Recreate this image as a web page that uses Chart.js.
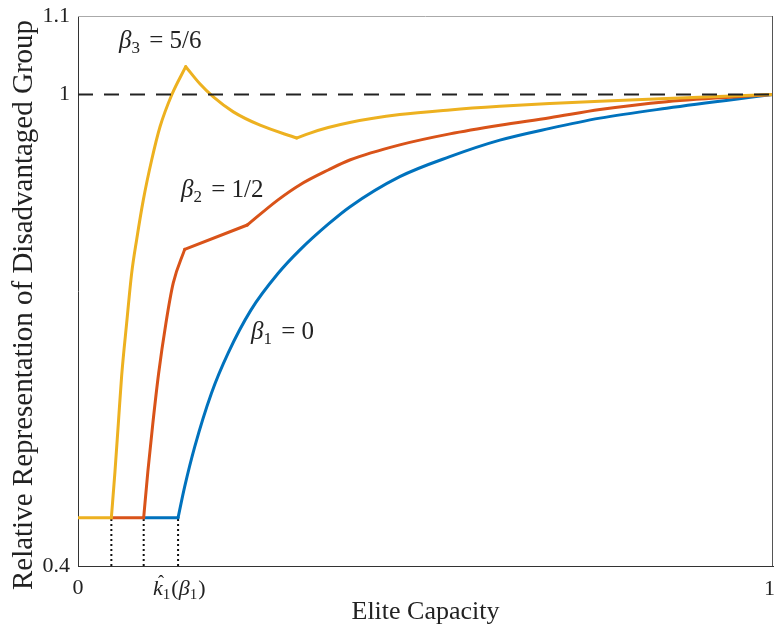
<!DOCTYPE html>
<html>
<head>
<meta charset="utf-8">
<script src="https://cdn.jsdelivr.net/npm/chart.js@4/dist/chart.umd.min.js"></script>
<style>
  body { margin: 0; background: #fff; }
  #wrap { width: 775px; height: 628px; }
</style>
</head>
<body>
<div id="wrap"><canvas id="c"></canvas></div>
<script>
// axis ticks
const xTicks = [0, 0.144, 1];
const xTickLabels = ['0', '', '1'];
const yTicks = [0.4, 1, 1.1];

// thresholds k_hat for each beta, and the floor value
const kHat = [0.048, 0.0945, 0.144];
const floorY = 0.4615;

// beta3 = 5/6  (kinks: end of floor, peak, minimum)
const yellowX = [0, 0.048, 0.0532, 0.058, 0.0628, 0.070, 0.0772, 0.0845, 0.094, 0.106, 0.118, 0.1348, 0.155, 0.175, 0.1947, 0.2235, 0.262, 0.3146, 0.334, 0.36, 0.391, 0.463, 0.535, 0.607, 0.679, 0.751, 0.847, 1];
const yellowY = [0.4615, 0.4615, 0.52, 0.581, 0.642, 0.709, 0.7725, 0.816, 0.866, 0.9167, 0.959, 0.9995, 1.0355, 1.014, 0.997, 0.978, 0.961, 0.9447, 0.951, 0.958, 0.9645, 0.9745, 0.9805, 0.985, 0.9885, 0.9915, 0.995, 1];
const yellowKinks = [1, 12, 17];

// beta2 = 1/2
const redX = [0.048, 0.0945, 0.1005, 0.1075, 0.116, 0.1265, 0.137, 0.1535, 0.2436, 0.2878, 0.319, 0.36, 0.391, 0.463, 0.535, 0.607, 0.679, 0.751, 0.847, 1];
const redY = [0.4615, 0.4615, 0.52, 0.58, 0.645, 0.709, 0.76, 0.803, 0.834, 0.866, 0.885, 0.904, 0.9167, 0.936, 0.950, 0.961, 0.9705, 0.981, 0.991, 1];
const redKinks = [1, 7, 8];

// beta1 = 0
const blueX = [0.0945, 0.144, 0.1535, 0.168, 0.192, 0.216, 0.249, 0.288, 0.319, 0.36, 0.391, 0.463, 0.535, 0.607, 0.679, 0.751, 0.847, 1];
const blueY = [0.4615, 0.4615, 0.501, 0.552, 0.620, 0.671, 0.726, 0.7725, 0.802, 0.835, 0.857, 0.8955, 0.921, 0.942, 0.957, 0.970, 0.9826, 1];
const blueKinks = [1];

const serif = '"Liberation Serif", "DejaVu Serif", serif';
const ink = '#222';

// one dataset per smooth piece, so corners stay sharp
function pieces(xs, ys, kinks, color) {
  const cuts = [0, ...kinks, xs.length - 1];
  const out = [];
  for (let j = 0; j < cuts.length - 1; j++) {
    const d = [];
    for (let i = cuts[j]; i <= cuts[j + 1]; i++) d.push({ x: xs[i], y: ys[i] });
    out.push({
      data: d,
      borderColor: color,
      borderWidth: 3,
      pointRadius: 0,
      cubicInterpolationMode: 'monotone',
      borderCapStyle: 'round'
    });
  }
  return out;
}

function betaLabel(ctx, x, y, sub, rest) {
  ctx.font = 'italic 25px ' + serif;
  ctx.fillText('β', x, y);
  let w = ctx.measureText('β').width;
  ctx.font = '17px ' + serif;
  ctx.fillText(sub, x + w, y + 5);
  w += ctx.measureText(sub).width;
  ctx.font = '25px ' + serif;
  ctx.fillText(rest, x + w + 3, y);
}

const extras = {
  id: 'extras',
  afterDraw(chart) {
    const ctx = chart.ctx;
    const a = chart.chartArea;
    const sx = chart.scales.x;
    ctx.save();
    // box top and right
    ctx.lineWidth = 1;
    ctx.strokeStyle = '#aaa';
    ctx.beginPath();
    ctx.moveTo(a.left, a.top + 0.5);
    ctx.lineTo(a.right, a.top + 0.5);
    ctx.stroke();
    ctx.strokeStyle = '#555';
    ctx.beginPath();
    ctx.moveTo(a.right - 0.5, a.top);
    ctx.lineTo(a.right - 0.5, a.bottom);
    ctx.stroke();

    ctx.fillStyle = ink;
    ctx.textBaseline = 'alphabetic';
    ctx.textAlign = 'left';
    betaLabel(ctx, 119, 48, '3', ' = 5/6');
    betaLabel(ctx, 181, 197, '2', ' = 1/2');
    betaLabel(ctx, 251, 339, '1', ' = 0');

    // last x tick sits against the right edge
    ctx.font = '22px ' + serif;
    ctx.textAlign = 'right';
    ctx.fillText(xTickLabels[2], a.right + 2, 595);
    ctx.textAlign = 'left';

    // hat k label under the middle tick
    const kx = sx.getPixelForValue(xTicks[1]) - 25;
    const ky = 595;
    ctx.font = 'italic 22px ' + serif;
    ctx.fillText('k', kx, ky);
    let w = ctx.measureText('k').width;
    ctx.font = '18px ' + serif;
    ctx.textAlign = 'center';
    ctx.fillText('ˆ', kx + w / 2 + 3, ky - 7);
    ctx.textAlign = 'left';
    ctx.font = '15px ' + serif;
    ctx.fillText('1', kx + w, ky + 4);
    w += ctx.measureText('1').width;
    ctx.font = '22px ' + serif;
    ctx.fillText('(', kx + w + 1, ky);
    w += ctx.measureText('(').width + 1;
    ctx.font = 'italic 22px ' + serif;
    ctx.fillText('β', kx + w, ky);
    w += ctx.measureText('β').width;
    ctx.font = '15px ' + serif;
    ctx.fillText('1', kx + w, ky + 4);
    w += ctx.measureText('1').width;
    ctx.font = '22px ' + serif;
    ctx.fillText(')', kx + w + 1, ky);

    // y axis title
    ctx.font = '29px ' + serif;
    ctx.textAlign = 'center';
    ctx.textBaseline = 'middle';
    ctx.translate(24, 305);
    ctx.rotate(-Math.PI / 2);
    ctx.fillText('Relative Representation of Disadvantaged Group', 0, 0);
    ctx.restore();
  }
};

const datasets = [
  {
    data: [{ x: 0, y: 1 }, { x: 1, y: 1 }],
    borderColor: ink,
    borderWidth: 2,
    borderDash: [15, 11],
    pointRadius: 0
  },
  ...pieces(yellowX, yellowY, yellowKinks, '#EDB120'),
  ...pieces(redX, redY, redKinks, '#D95319'),
  ...pieces(blueX, blueY, blueKinks, '#0072BD')
];
kHat.forEach(k => {
  datasets.push({
    data: [{ x: k, y: 0.4 }, { x: k, y: floorY }],
    borderColor: '#111',
    borderWidth: 2,
    borderDash: [2, 3],
    pointRadius: 0
  });
});

new Chart(document.getElementById('c'), {
  type: 'line',
  data: { datasets: datasets },
  plugins: [extras],
  options: {
    responsive: true,
    maintainAspectRatio: false,
    animation: false,
    layout: { padding: { top: 16, right: 2, left: 0, bottom: 0 } },
    plugins: {
      legend: { display: false },
      tooltip: { enabled: false }
    },
    scales: {
      x: {
        type: 'linear',
        min: 0,
        max: 1,
        afterBuildTicks: s => { s.ticks = xTicks.map(v => ({ value: v })); },
        afterFit: s => { s.height = 62; s.paddingLeft = 0; s.paddingRight = 0; },
        grid: { display: false, drawTicks: false },
        border: { display: true, color: '#333', width: 1 },
        ticks: {
          padding: 9,
          color: ink,
          font: { family: serif, size: 22 },
          maxRotation: 0,
          autoSkip: false,
          callback: (v, i) => (i === 0 ? xTickLabels[0] : '')
        },
        title: {
          display: true,
          text: 'Elite Capacity',
          color: ink,
          font: { family: serif, size: 26 },
          padding: { top: 0, bottom: 0 }
        }
      },
      y: {
        type: 'linear',
        min: 0.4,
        max: 1.1,
        afterBuildTicks: s => { s.ticks = yTicks.map(v => ({ value: v })); },
        afterFit: s => { s.width = 78; s.paddingTop = 0; s.paddingBottom = 0; },
        grid: { display: false, drawTicks: false },
        border: { display: true, color: '#333', width: 1 },
        ticks: {
          padding: 8,
          color: ink,
          font: { family: serif, size: 22 },
          autoSkip: false,
          callback: v => String(v)
        }
      }
    }
  }
});
</script>
</body>
</html>
